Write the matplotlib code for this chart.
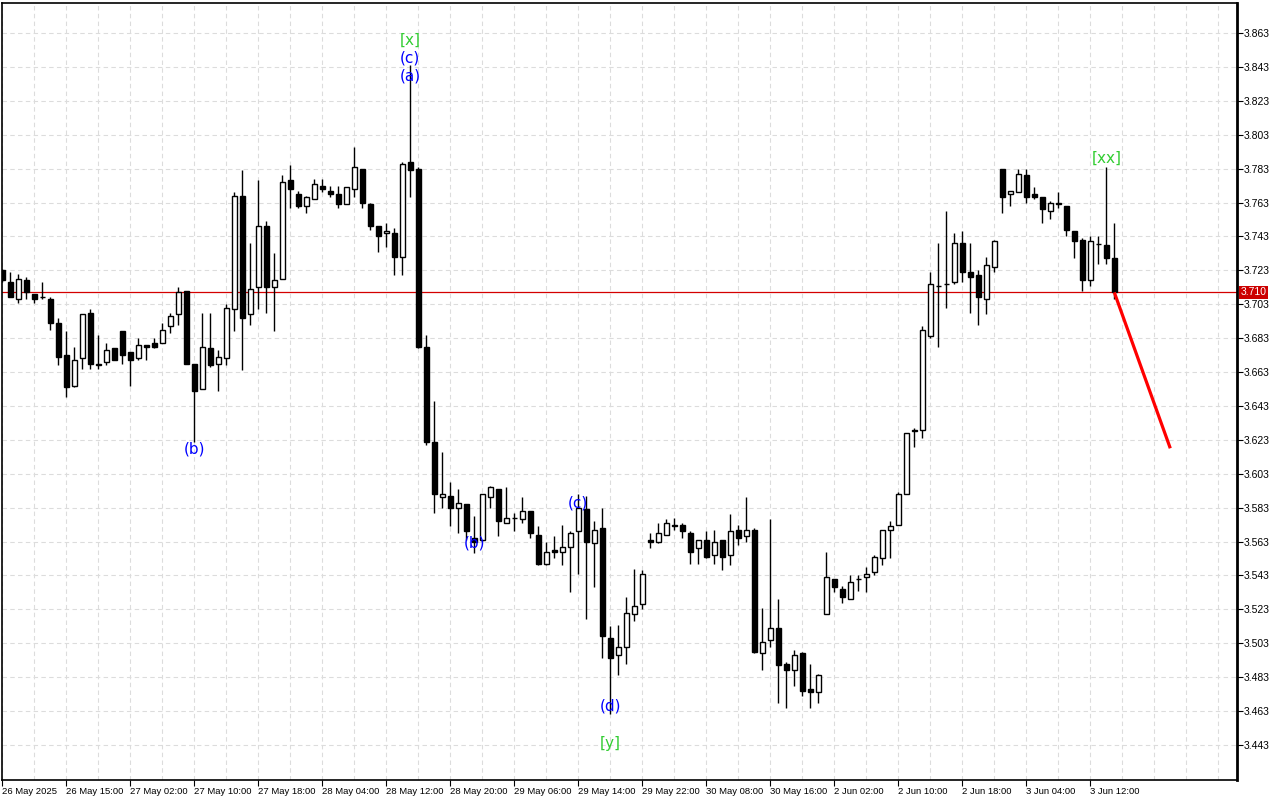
import matplotlib
matplotlib.use("Agg")
import matplotlib.pyplot as plt
import matplotlib.transforms as mtransforms

plt.rcParams['font.family'] = ['DejaVu Sans']

# ---- candle data (hourly bars) ----
opens = [3.723, 3.716, 3.706, 3.717, 3.709, 3.7075, 3.706, 3.692, 3.673, 3.655,
         3.671, 3.698, 3.667, 3.669, 3.677, 3.687, 3.675, 3.671, 3.679, 3.680,
         3.680, 3.690, 3.697, 3.711, 3.668, 3.653, 3.677, 3.668, 3.671, 3.700,
         3.767, 3.697, 3.713, 3.749, 3.713, 3.718, 3.776, 3.768, 3.761, 3.765,
         3.773, 3.770, 3.768, 3.762, 3.771, 3.783, 3.762, 3.749, 3.745, 3.745,
         3.731, 3.787, 3.783, 3.678, 3.622, 3.589, 3.590, 3.583, 3.585, 3.565,
         3.564, 3.589, 3.594, 3.574, 3.577, 3.576, 3.581, 3.567, 3.550, 3.558,
         3.557, 3.560, 3.569, 3.582, 3.562, 3.571, 3.506, 3.496, 3.501, 3.520,
         3.526, 3.564, 3.563, 3.567, 3.573, 3.573, 3.568, 3.559, 3.564, 3.555,
         3.564, 3.555, 3.570, 3.566, 3.570, 3.497, 3.505, 3.512, 3.491, 3.487,
         3.497, 3.476, 3.474, 3.520, 3.541, 3.535, 3.529, 3.541, 3.542, 3.545,
         3.553, 3.570, 3.573, 3.591, 3.628, 3.629, 3.684, 3.714, 3.7148, 3.716,
         3.739, 3.722, 3.720, 3.706, 3.725, 3.783, 3.768, 3.769, 3.779, 3.768,
         3.766, 3.758, 3.763, 3.761, 3.746, 3.741, 3.717, 3.739, 3.738, 3.730]
highs = [3.724, 3.722, 3.721, 3.719, 3.709, 3.716, 3.707, 3.695, 3.687, 3.678,
         3.697, 3.700, 3.685, 3.680, 3.677, 3.687, 3.675, 3.683, 3.679, 3.683,
         3.692, 3.698, 3.713, 3.711, 3.668, 3.698, 3.698, 3.676, 3.703, 3.769,
         3.782, 3.739, 3.776, 3.752, 3.733, 3.779, 3.785, 3.770, 3.767, 3.777,
         3.777, 3.773, 3.773, 3.772, 3.796, 3.783, 3.763, 3.749, 3.751, 3.748,
         3.787, 3.844, 3.784, 3.685, 3.646, 3.616, 3.598, 3.594, 3.585, 3.578,
         3.591, 3.596, 3.594, 3.595, 3.580, 3.589, 3.581, 3.572, 3.563, 3.566,
         3.573, 3.569, 3.591, 3.590, 3.575, 3.583, 3.513, 3.514, 3.530, 3.547,
         3.546, 3.568, 3.574, 3.576, 3.577, 3.574, 3.569, 3.564, 3.569, 3.570,
         3.564, 3.579, 3.573, 3.589, 3.571, 3.524, 3.576, 3.529, 3.492, 3.499,
         3.498, 3.491, 3.485, 3.557, 3.541, 3.537, 3.543, 3.543, 3.548, 3.555,
         3.570, 3.575, 3.592, 3.627, 3.630, 3.690, 3.722, 3.739, 3.758, 3.745,
         3.746, 3.739, 3.723, 3.731, 3.741, 3.783, 3.770, 3.783, 3.783, 3.772,
         3.766, 3.764, 3.769, 3.761, 3.746, 3.742, 3.743, 3.743, 3.784, 3.751]
lows = [3.716, 3.707, 3.704, 3.706, 3.704, 3.706, 3.688, 3.667, 3.648, 3.654,
        3.665, 3.665, 3.665, 3.667, 3.670, 3.668, 3.655, 3.670, 3.670, 3.677,
        3.680, 3.686, 3.691, 3.668, 3.622, 3.653, 3.666, 3.652, 3.667, 3.687,
        3.664, 3.691, 3.700, 3.698, 3.687, 3.718, 3.760, 3.760, 3.757, 3.765,
        3.769, 3.766, 3.760, 3.762, 3.766, 3.760, 3.747, 3.734, 3.737, 3.720,
        3.720, 3.766, 3.677, 3.620, 3.580, 3.583, 3.572, 3.568, 3.564, 3.556,
        3.563, 3.583, 3.566, 3.574, 3.569, 3.574, 3.565, 3.549, 3.549, 3.553,
        3.549, 3.533, 3.544, 3.517, 3.536, 3.494, 3.461, 3.484, 3.491, 3.516,
        3.523, 3.559, 3.562, 3.567, 3.570, 3.565, 3.550, 3.550, 3.553, 3.550,
        3.546, 3.549, 3.561, 3.563, 3.497, 3.487, 3.501, 3.468, 3.465, 3.478,
        3.472, 3.465, 3.468, 3.520, 3.533, 3.527, 3.529, 3.534, 3.533, 3.543,
        3.549, 3.553, 3.573, 3.591, 3.619, 3.624, 3.683, 3.678, 3.701, 3.715,
        3.716, 3.698, 3.691, 3.697, 3.722, 3.757, 3.761, 3.769, 3.763, 3.765,
        3.751, 3.753, 3.760, 3.743, 3.730, 3.711, 3.714, 3.727, 3.727, 3.706]
closes = [3.717, 3.707, 3.718, 3.710, 3.706, 3.707, 3.692, 3.672, 3.654, 3.670,
          3.697, 3.668, 3.668, 3.676, 3.670, 3.673, 3.670, 3.679, 3.678, 3.678,
          3.688, 3.696, 3.710, 3.668, 3.652, 3.678, 3.667, 3.672, 3.701, 3.767,
          3.695, 3.712, 3.749, 3.713, 3.717, 3.775, 3.771, 3.761, 3.766, 3.774,
          3.771, 3.768, 3.762, 3.772, 3.784, 3.763, 3.749, 3.743, 3.746, 3.731,
          3.786, 3.782, 3.678, 3.622, 3.591, 3.591, 3.583, 3.586, 3.569, 3.563,
          3.591, 3.595, 3.575, 3.577, 3.5765, 3.581, 3.568, 3.550, 3.557, 3.557,
          3.560, 3.568, 3.583, 3.563, 3.570, 3.507, 3.494, 3.501, 3.521, 3.525,
          3.544, 3.563, 3.568, 3.574, 3.572, 3.569, 3.557, 3.564, 3.554, 3.563,
          3.554, 3.569, 3.565, 3.570, 3.498, 3.504, 3.512, 3.490, 3.487, 3.496,
          3.475, 3.474, 3.484, 3.542, 3.536, 3.530, 3.539, 3.5405, 3.544, 3.554,
          3.570, 3.572, 3.591, 3.627, 3.629, 3.688, 3.715, 3.7135, 3.7152, 3.739,
          3.722, 3.719, 3.707, 3.726, 3.740, 3.766, 3.770, 3.780, 3.766, 3.766,
          3.759, 3.763, 3.762, 3.747, 3.740, 3.717, 3.740, 3.7385, 3.730, 3.710]

# time axis labels (one every 8 bars)
time_labels = ["26 May 2025", "26 May 15:00", "27 May 02:00", "27 May 10:00",
               "27 May 18:00", "28 May 04:00", "28 May 12:00", "28 May 20:00",
               "29 May 06:00", "29 May 14:00", "29 May 22:00", "30 May 08:00",
               "30 May 16:00", "2 Jun 02:00", "2 Jun 10:00", "2 Jun 18:00",
               "3 Jun 04:00", "3 Jun 12:00"]

price_ticks = [3.443, 3.463, 3.483, 3.503, 3.523, 3.543, 3.563, 3.583, 3.603,
               3.623, 3.643, 3.663, 3.683, 3.703, 3.723, 3.743, 3.763, 3.783,
               3.803, 3.823, 3.843, 3.863]

current_price = 3.710
forecast_x = [139, 146]
forecast_y = [3.710, 3.618]

# wave labels: text, bar index, price, colour
wave_labels = [("[x]", 51, 3.8589, "#32CD32"),
               ("(c)", 51, 3.8483, "#0000FF"),
               ("(a)", 51, 3.8377, "#0000FF"),
               ("(b)", 24, 3.6176, "#0000FF"),
               ("(b)", 59, 3.5621, "#0000FF"),
               ("(c)", 72, 3.5857, "#0000FF"),
               ("(d)", 76, 3.4660, "#0000FF"),
               ("[y]", 76, 3.4441, "#32CD32"),
               ("[xx]", 138, 3.7893, "#32CD32")]

axis_font = ['Liberation Sans', 'DejaVu Sans']

# ---- figure ----
fig = plt.figure(figsize=(12.8, 8.0), dpi=100)
ax = fig.add_axes([2 / 1280, 20 / 800, 1235 / 1280, 777 / 800])
ax.set_xlim(-0.04, 154.34)
ax.set_ylim(3.4223, 3.8807)

# grid
for t in price_ticks:
    ax.axhline(t, color="#dcdcdc", lw=0.8, ls=(0, (4, 3)), zorder=0)
for gx in range(0, 156, 4):
    ax.axvline(gx, color="#dcdcdc", lw=0.8, ls=(0, (4, 3)), zorder=0)

# current price line
ax.axhline(current_price, color="#d40000", lw=0.9, zorder=1)

# candles
bw = 0.62
min_h = 0.0007
for i, (o, h, l, c) in enumerate(zip(opens, highs, lows, closes)):
    ax.vlines(i, l, h, color="black", lw=1.0, zorder=2)
    bottom = min(o, c)
    height = abs(c - o)
    if height < min_h:
        ax.hlines((o + c) / 2, i - bw / 2, i + bw / 2, color="black", lw=1.0, zorder=3)
        continue
    face = "white" if c > o else "black"
    ax.bar(i, height, bottom=bottom, width=bw, color=face, edgecolor="black",
           linewidth=1.0, zorder=3)

# forecast line
ax.plot(forecast_x, forecast_y, color="#ff0000", lw=2.3, zorder=4,
        solid_capstyle="butt")

# wave labels
for txt, xi, yv, col in wave_labels:
    ax.text(xi, yv, txt, color=col, fontsize=11, ha="center", va="center", zorder=5)

# axes styling
for s in ax.spines.values():
    s.set_color("black")
    s.set_linewidth(1.2)
ax.spines["right"].set_linewidth(2.0)

ax.yaxis.tick_right()
ax.set_yticks(price_ticks)
ax.set_yticklabels([f"{t:.3f}" for t in price_ticks], family=axis_font)
ax.tick_params(axis="y", direction="out", length=4, width=0.8, pad=1,
               labelsize=7.5, colors="black")

ax.set_xticks(list(range(0, 8 * len(time_labels), 8)))
ax.set_xticklabels(time_labels, family=axis_font)
ax.tick_params(axis="x", direction="out", length=4, width=0.8, pad=1,
               labelsize=6.8, colors="black")
for lbl in ax.get_xticklabels():
    lbl.set_ha("left")

# price tag on right axis
trans = mtransforms.blended_transform_factory(ax.transAxes, ax.transData)
ax.text(1.003, current_price, f"{current_price:.3f}", transform=trans,
        color="white", fontsize=7.5, family=axis_font, ha="left", va="center",
        zorder=6, bbox=dict(facecolor="#cc0000", edgecolor="none", pad=1.2),
        clip_on=False)

fig.savefig("out.png", dpi=100)
